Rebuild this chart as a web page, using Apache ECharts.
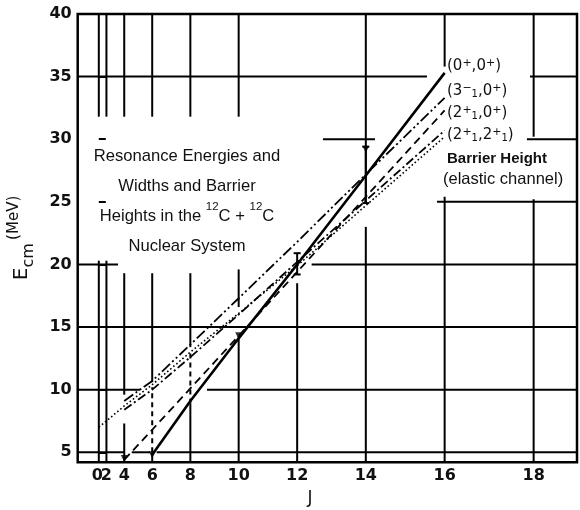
<!DOCTYPE html>
<html>
<head>
<meta charset="utf-8">
<script src="https://cdn.jsdelivr.net/npm/echarts@6/dist/echarts.min.js"></script>
<style>html,body{margin:0;background:#fff}#main{width:580px;height:510px}</style>
</head>
<body>
<div id="main"></div>
<script>
// tick labels
var jTicks = [0, 2, 4, 6, 8, 10, 12, 14, 16, 18];
var eTicks = [5, 10, 15, 20, 25, 30, 35, 40];

// (0+,0+) solid
var jGS = [6, 8, 10, 12, 14, 16];
var eGS = [4.8, 9.1, 14.1, 20.0, 27.1, 35.3];
// rotational bands
var jRot = [4, 6, 8, 10, 12, 14, 16];
var e3m = [9.1, 10.7, 13.6, 17.3, 21.8, 27.2, 33.3];   // (3-,0+)
var e2p0 = [4.4, 6.8, 10.1, 14.3, 19.4, 25.4, 32.3];  // (2+,0+)
var e2p2 = [8.4, 10.0, 12.6, 16.0, 20.2, 25.1, 30.7]; // (2+,2+)
// barrier height (elastic channel)
var jBar = [0, 2, 4, 6, 8, 10, 12, 14, 16];
var eBar = [7.0, 7.5, 8.7, 10.4, 13.0, 16.1, 19.9, 24.7, 30.2];
// resonance widths
var jErr = [12, 14];
var eErrLo = [19.2, 24.9];
var eErrHi = [20.9, 29.4];
// resonance marks
var jMark = [4, 6, 10, 14];
var eMark = [4.5, 4.8, 14.3, 29.2];

function jj(j) { return j * (j + 1); }   // x axis is J(J+1)

var XMIN = -16.6, XMAX = 376.1, YMIN = 4.2;

// hand drawn grid, pieces broken where text and curves run
var gridH = [[35, XMIN, 258.1], [35, 339.1, XMAX], [30, 176.3, 217.2], [30, 336.7, XMAX],
  [25, 266, XMAX], [20, XMIN, 15.1], [20, 167.4, XMAX], [15, XMIN, XMAX],
  [10, XMIN, 32.4], [10, 85.1, XMAX], [5, XMIN, 20.6], [5, 25.9, 40.3], [5, 45.5, XMAX]];
var gridV = [[0, YMIN, 20.3], [0, 31.8, 40], [2, YMIN, 20.3], [2, 31.8, 40],
  [4, YMIN, 7.3], [4, 9.6, 19.3], [4, 31.8, 40], [6, YMIN, 5], [6, 10.6, 19.3], [6, 31.8, 40],
  [8, YMIN, 8.9], [8, 13.4, 19.3], [8, 31.8, 40], [10, YMIN, 14.3], [10, 16.6, 19.6], [10, 31.8, 40],
  [12, YMIN, 18.5], [14, YMIN, 23.0], [14, 24.9, 40], [16, YMIN, 25.4], [16, 35.8, 40],
  [18, YMIN, 25.2], [18, 30.2, 40]];
var gridVDash = [[6, 5.0, 10.2], [8, 8.9, 13.2]];

var segs = [];
gridH.forEach(function (s) { segs.push([s[1], s[0], s[2], s[0], 0]); });
gridV.forEach(function (s) { segs.push([jj(s[0]), s[1], jj(s[0]), s[2], 0]); });
gridVDash.forEach(function (s) { segs.push([jj(s[0]), s[1], jj(s[0]), s[2], 1]); });

function pairs(js, es) { return js.map(function (j, i) { return [jj(j), es[i]]; }); }
function jLabel(v) { return String(Math.round((Math.sqrt(1 + 4 * v) - 1) / 2)); }

var myChart = echarts.init(document.getElementById('main'));
var tickFont = { fontFamily: 'DejaVu Sans', fontWeight: 'bold', fontSize: 16, color: '#111' };
var supSub = {
  p: { fontFamily: 'DejaVu Sans', fontSize: 11, verticalAlign: 'top', padding: [0, 0, 6, 0] },
  b: { fontFamily: 'DejaVu Sans', fontSize: 10, verticalAlign: 'bottom', padding: [6, 0, 0, 0] }
};

var option = {
  animation: false,
  backgroundColor: '#fff',
  grid: { left: 77.7, right: 3, top: 14, bottom: 47.7, show: true, borderColor: '#000', borderWidth: 2.5 },
  xAxis: [{
    type: 'value', min: XMIN, max: XMAX,
    axisLine: { show: false }, axisTick: { show: false }, splitLine: { show: false },
    axisLabel: Object.assign({ customValues: jTicks.slice(1).map(jj), margin: 6, hideOverlap: false, formatter: jLabel }, tickFont)
  }, {
    // the "0" sits tight against the "2"; separate axis keeps it from being dropped
    type: 'value', min: XMIN, max: XMAX, position: 'bottom',
    axisLine: { show: false }, axisTick: { show: false }, splitLine: { show: false },
    axisLabel: Object.assign({ customValues: [jj(jTicks[0])], margin: 6, padding: [0, 3, 0, 0], formatter: jLabel }, tickFont)
  }],
  yAxis: {
    type: 'value', min: YMIN, max: 40,
    axisLine: { show: false }, splitLine: { show: false },
    axisTick: { show: true, inside: true, length: 7, customValues: eTicks, lineStyle: { color: '#000', width: 2 } },
    axisLabel: Object.assign({ customValues: eTicks, margin: 6 }, tickFont)
  },
  graphic: [
    { type: 'text', x: 187, y: 201, style: {
      text: 'Resonance Energies and\nWidths and Barrier\nHeights in the {s|12}C + {s|12}C\nNuclear System',
      align: 'center', verticalAlign: 'middle', textAlign: 'center', textVerticalAlign: 'middle',
      fontFamily: 'Liberation Sans', fontSize: 16.6, lineHeight: 30, fill: '#111',
      rich: { s: { fontFamily: 'Liberation Sans', fontSize: 11.5, verticalAlign: 'top', lineHeight: 30, padding: [0, 0, 6, 0] } }
    } },
    { type: 'text', x: 447, y: 66, style: { text: '(0{p|+},0{p|+})', fontFamily: 'DejaVu Sans', fontSize: 15, fill: '#111',
      verticalAlign: 'middle', textVerticalAlign: 'middle', rich: supSub } },
    { type: 'text', x: 447, y: 91, style: { text: '(3{p|−}{b|1},0{p|+})', fontFamily: 'DejaVu Sans', fontSize: 15, fill: '#111',
      verticalAlign: 'middle', textVerticalAlign: 'middle', rich: supSub } },
    { type: 'text', x: 447, y: 113, style: { text: '(2{p|+}{b|1},0{p|+})', fontFamily: 'DejaVu Sans', fontSize: 15, fill: '#111',
      verticalAlign: 'middle', textVerticalAlign: 'middle', rich: supSub } },
    { type: 'text', x: 447, y: 135, style: { text: '(2{p|+}{b|1},2{p|+}{b|1})', fontFamily: 'DejaVu Sans', fontSize: 15, fill: '#111',
      verticalAlign: 'middle', textVerticalAlign: 'middle', rich: supSub } },
    { type: 'text', x: 447, y: 159, style: { text: 'Barrier Height', fontFamily: 'Liberation Sans', fontWeight: 'bold', fontSize: 15, fill: '#111',
      verticalAlign: 'middle', textVerticalAlign: 'middle' } },
    { type: 'text', x: 443, y: 179, style: { text: '(elastic channel)', fontFamily: 'Liberation Sans', fontSize: 16.5, fill: '#111',
      verticalAlign: 'middle', textVerticalAlign: 'middle' } },
    { type: 'text', x: 22, y: 238, rotation: Math.PI / 2, style: {
      text: '{e|E}{c|cm} {m|(MeV)}', align: 'center', verticalAlign: 'middle', textAlign: 'center', textVerticalAlign: 'middle', fill: '#111',
      rich: {
        e: { fontFamily: 'DejaVu Sans', fontSize: 20, lineHeight: 30, verticalAlign: 'middle' },
        c: { fontFamily: 'DejaVu Sans', fontSize: 16, lineHeight: 30, verticalAlign: 'bottom', padding: [8, 0, 0, 0] },
        m: { fontFamily: 'DejaVu Sans', fontSize: 15, lineHeight: 30, verticalAlign: 'top', padding: [0, 0, 8, 0] }
      }
    } },
    { type: 'text', x: 310, y: 499, style: { text: 'J', fontFamily: 'DejaVu Sans', fontSize: 17, fill: '#111',
      align: 'center', verticalAlign: 'middle', textAlign: 'center', textVerticalAlign: 'middle' } }
  ],
  series: [
    {
      type: 'custom', silent: true, data: segs, encode: { x: [0, 2], y: [1, 3] },
      renderItem: function (params, api) {
        var p1 = api.coord([api.value(0), api.value(1)]);
        var p2 = api.coord([api.value(2), api.value(3)]);
        return { type: 'line', shape: { x1: p1[0], y1: p1[1], x2: p2[0], y2: p2[1] },
          style: { stroke: '#000', lineWidth: 2, lineDash: api.value(4) ? [5, 4] : null } };
      }
    },
    { name: '(0+,0+)', type: 'line', showSymbol: false, data: pairs(jGS, eGS),
      lineStyle: { color: '#000', width: 2.6 } },
    { name: '(3-,0+)', type: 'line', showSymbol: false, data: pairs(jRot, e3m),
      lineStyle: { color: '#000', width: 1.8, type: [11, 3, 2, 3, 2, 3] } },
    { name: '(2+,0+)', type: 'line', showSymbol: false, data: pairs(jRot, e2p0),
      lineStyle: { color: '#000', width: 1.8, type: [8, 5] } },
    { name: '(2+,2+)', type: 'line', showSymbol: false, data: pairs(jRot, e2p2),
      lineStyle: { color: '#000', width: 1.8, type: [9, 3, 2, 3] } },
    { name: 'Barrier Height', type: 'line', showSymbol: false, data: pairs(jBar, eBar),
      lineStyle: { color: '#000', width: 1.6, type: [1.6, 2.4] } },
    {
      type: 'custom', silent: true,
      data: jErr.map(function (j, i) { return [jj(j), eErrLo[i], eErrHi[i]]; }),
      encode: { x: 0, y: [1, 2] },
      renderItem: function (params, api) {
        var lo = api.coord([api.value(0), api.value(1)]);
        var hi = api.coord([api.value(0), api.value(2)]);
        var st = { stroke: '#000', lineWidth: 2 };
        return { type: 'group', children: [
          { type: 'line', shape: { x1: lo[0], y1: lo[1], x2: hi[0], y2: hi[1] }, style: st },
          { type: 'line', shape: { x1: lo[0] - 3.5, y1: lo[1], x2: lo[0] + 3.5, y2: lo[1] }, style: st },
          { type: 'line', shape: { x1: hi[0] - 3.5, y1: hi[1], x2: hi[0] + 3.5, y2: hi[1] }, style: st }
        ] };
      }
    },
    { type: 'scatter', silent: true, data: pairs(jMark, eMark), symbol: 'triangle', symbolSize: 7,
      symbolRotate: 180, itemStyle: { color: '#000' } }
  ]
};
myChart.setOption(option);
window.addEventListener('resize', function () { myChart.resize(); });
</script>
</body>
</html>
